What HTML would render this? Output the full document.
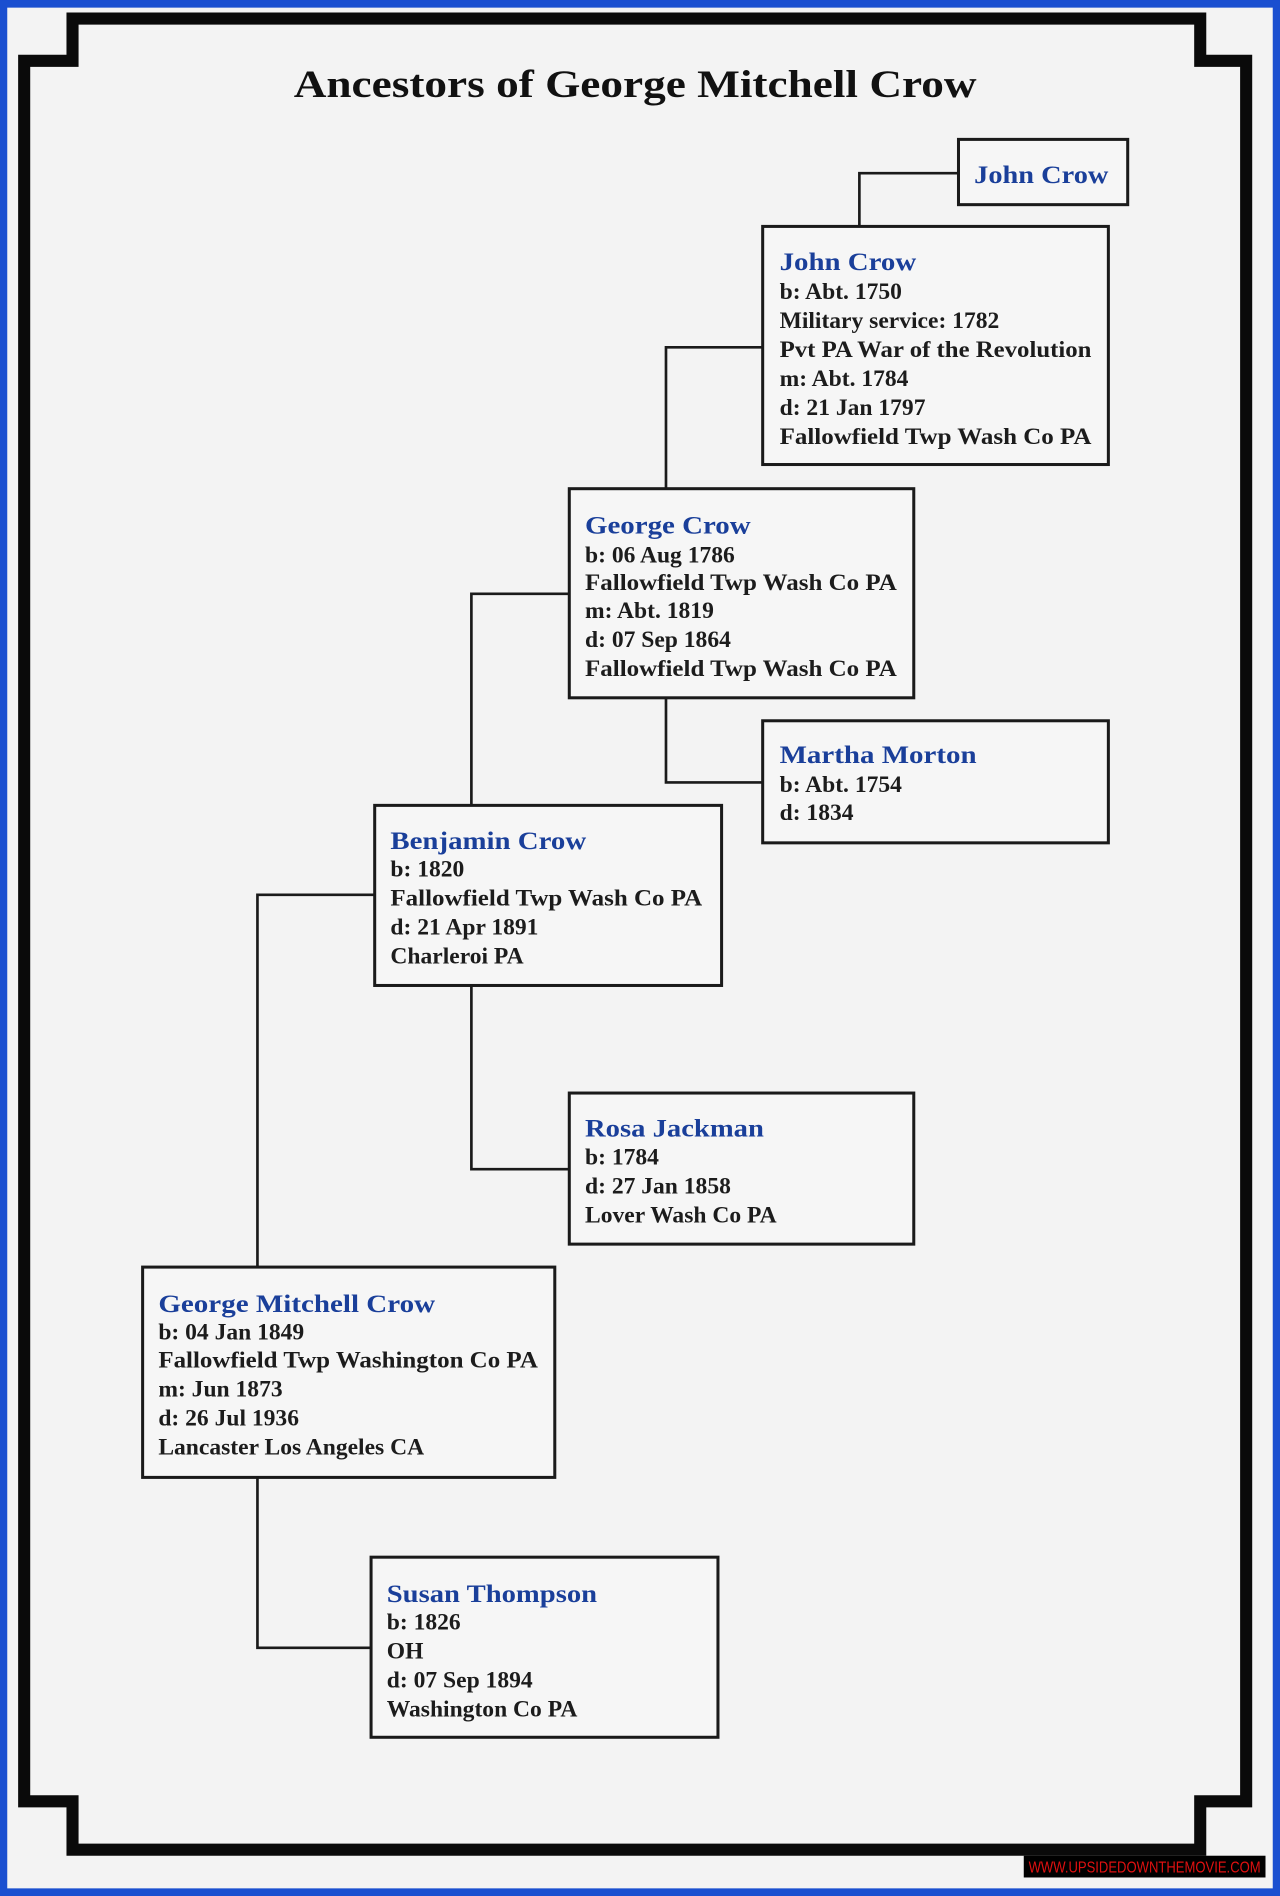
<!DOCTYPE html>
<html><head><meta charset="utf-8"><style>
html,body{margin:0;padding:0;background:#1a4fd0;}
svg{display:block}
</style></head><body>
<svg width="1280" height="1896" viewBox="0 0 1059 1568" xmlns="http://www.w3.org/2000/svg">
<rect x="0" y="0" width="1059" height="1568" fill="#1a4fd0"/>
<rect x="6" y="6" width="1047" height="1556" fill="#f3f3f3"/>
<path d="M60,15 H993 V50 H1031 V1490 H993 V1530 H60 V1490 H20 V50 H60 Z" fill="none" stroke="#0a0a0a" stroke-width="10" stroke-linejoin="miter"/>
<text x="243" y="80" font-family="Liberation Serif, serif" font-weight="bold" font-size="32" fill="#111" textLength="565" lengthAdjust="spacingAndGlyphs">Ancestors of George Mitchell Crow</text>
<g stroke="#1a1a1a" stroke-width="2.2" fill="none">
<path d="M793,143 H711 V187"/>
<path d="M631,287 H551 V404"/>
<path d="M551,577 V647 H631"/>
<path d="M471,491 H390 V666"/>
<path d="M390,815 V967 H471"/>
<path d="M310,740 H213 V1048"/>
<path d="M213,1222 V1363 H307"/>
</g>
<g stroke="#1a1a1a" stroke-width="2.5" fill="#f6f6f6">
<rect x="793" y="115" width="140" height="54"/>
<rect x="631" y="187" width="286" height="197"/>
<rect x="471" y="404" width="285" height="173"/>
<rect x="631" y="596" width="286" height="101"/>
<rect x="310" y="666" width="287" height="149"/>
<rect x="471" y="904" width="285" height="125"/>
<rect x="118" y="1048" width="341" height="174"/>
<rect x="307" y="1288" width="287" height="149"/>
</g>
<g font-family="Liberation Serif, serif" font-size="19.5" font-weight="bold" fill="#1c1c1c">
<g fill="#1a3f9a" font-size="21">
<text x="806" y="151" textLength="111" lengthAdjust="spacingAndGlyphs">John Crow</text>
<text x="645" y="223" textLength="113" lengthAdjust="spacingAndGlyphs">John Crow</text>
<text x="484" y="441" textLength="137" lengthAdjust="spacingAndGlyphs">George Crow</text>
<text x="645" y="631" textLength="163" lengthAdjust="spacingAndGlyphs">Martha Morton</text>
<text x="323" y="702" textLength="162" lengthAdjust="spacingAndGlyphs">Benjamin Crow</text>
<text x="484" y="940" textLength="148" lengthAdjust="spacingAndGlyphs">Rosa Jackman</text>
<text x="131" y="1085" textLength="229" lengthAdjust="spacingAndGlyphs">George Mitchell Crow</text>
<text x="320" y="1325" textLength="174" lengthAdjust="spacingAndGlyphs">Susan Thompson</text>
</g>
<text x="645" y="247">b: Abt. 1750</text>
<text x="645" y="271">Military service: 1782</text>
<text x="645" y="295" textLength="258" lengthAdjust="spacingAndGlyphs">Pvt PA War of the Revolution</text>
<text x="645" y="319">m: Abt. 1784</text>
<text x="645" y="343">d: 21 Jan 1797</text>
<text x="645" y="367" textLength="258" lengthAdjust="spacingAndGlyphs">Fallowfield Twp Wash Co PA</text>
<text x="484" y="465">b: 06 Aug 1786</text>
<text x="484" y="488" textLength="258" lengthAdjust="spacingAndGlyphs">Fallowfield Twp Wash Co PA</text>
<text x="484" y="511">m: Abt. 1819</text>
<text x="484" y="535">d: 07 Sep 1864</text>
<text x="484" y="559" textLength="258" lengthAdjust="spacingAndGlyphs">Fallowfield Twp Wash Co PA</text>
<text x="645" y="655">b: Abt. 1754</text>
<text x="645" y="678">d: 1834</text>
<text x="323" y="725">b: 1820</text>
<text x="323" y="749" textLength="258" lengthAdjust="spacingAndGlyphs">Fallowfield Twp Wash Co PA</text>
<text x="323" y="773">d: 21 Apr 1891</text>
<text x="323" y="797">Charleroi  PA</text>
<text x="484" y="963">b: 1784</text>
<text x="484" y="987">d: 27 Jan 1858</text>
<text x="484" y="1011">Lover Wash Co PA</text>
<text x="131" y="1108">b: 04 Jan 1849</text>
<text x="131" y="1131" textLength="314" lengthAdjust="spacingAndGlyphs">Fallowfield Twp Washington Co PA</text>
<text x="131" y="1155">m: Jun 1873</text>
<text x="131" y="1179">d: 26 Jul 1936</text>
<text x="131" y="1203">Lancaster Los Angeles CA</text>
<text x="320" y="1348">b: 1826</text>
<text x="320" y="1372">OH</text>
<text x="320" y="1396">d: 07 Sep 1894</text>
<text x="320" y="1420">Washington Co PA</text>
</g>
<rect x="847" y="1535" width="200" height="18" fill="#000"/>
<text x="947" y="1549" text-anchor="middle" font-family="Liberation Sans, sans-serif" font-size="13" fill="#e01010" textLength="192" lengthAdjust="spacingAndGlyphs">WWW.UPSIDEDOWNTHEMOVIE.COM</text>
</svg>
</body></html>
